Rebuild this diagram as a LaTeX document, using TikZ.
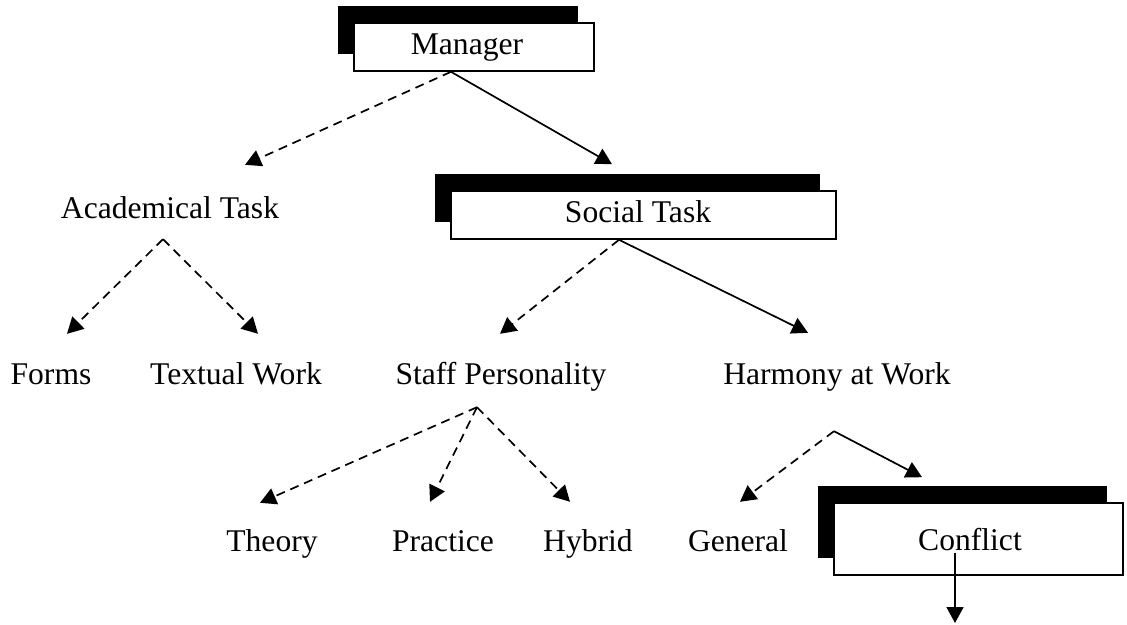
\documentclass[tikz,border=0pt]{standalone}
\usepackage{fontspec}
\setmainfont{Liberation Serif}
\usetikzlibrary{arrows.meta,shadows}

\begin{document}
\begin{tikzpicture}[x=1pt,y=-1pt,
  font=\fontsize{31.6pt}{38pt}\selectfont,
  box/.style={draw, fill=white, line width=1.6pt, inner sep=0pt,
    text height=21pt, text depth=7pt,
    drop shadow={shadow xshift=-16pt, shadow yshift=17pt, fill=black, opacity=1}},
  lbl/.style={inner sep=0pt, anchor=base, text height=21pt, text depth=7pt},
  solidarr/.style={line width=1.7pt, -{Triangle[length=16pt,width=17pt]}},
  dasharr/.style={solidarr, dash pattern=on 9pt off 6pt}]
\useasboundingbox (0,0) rectangle (1127,624);

% Kaesten
\node[box, minimum width=240pt, minimum height=48pt] (mgr) at (474,47) {Manager\hspace*{14pt}};
\node[box, minimum width=385pt, minimum height=48pt] (social) at (643.5,215) {Social Task\hspace*{11pt}};
\node[box, minimum width=289pt, minimum height=72pt, text height=29pt] (conflict) at (978.5,539) {Conflict\hspace*{17pt}};

% Beschriftungen
\node[lbl] (acad) at (170,218) {Academical Task};

\node[lbl] (forms)    at ( 51,384) {Forms};
\node[lbl] (textual)  at (236,384) {Textual Work};
\node[lbl] (staff)    at (501,384) {Staff Personality};
\node[lbl] (harmony)  at (837,384) {Harmony at Work};

\node[lbl] (theory)   at (272,551) {Theory};
\node[lbl] (practice) at (443,551) {Practice};
\node[lbl] (hybrid)   at (588,551) {Hybrid};
\node[lbl] (general)  at (738,551) {General};

\coordinate (out) at (955,623);

% Pfeile
\draw[dasharr]  ([xshift=-23pt]mgr.south) -- ([xshift=75pt,yshift=32pt]acad.north);
\draw[solidarr] ([xshift=-23pt]mgr.south) -- ([xshift=-31.5pt,yshift=26pt]social.north);

\draw[dasharr] ([xshift=-7pt,yshift=-14pt]acad.south) -- ([xshift=16pt,yshift=29pt]forms.north);
\draw[dasharr] ([xshift=-7pt,yshift=-14pt]acad.south) -- ([xshift=22pt,yshift=29pt]textual.north);

\draw[dasharr]  ([xshift=-24.5pt]social.south) -- ([xshift=-1pt,yshift=29pt]staff.north);
\draw[solidarr] ([xshift=-24.5pt]social.south) -- ([xshift=-29pt,yshift=30pt]harmony.north);

\draw[dasharr] ([xshift=-24pt,yshift=-16pt]staff.south) -- ([xshift=-12pt,yshift=27pt]theory.north);
\draw[dasharr] ([xshift=-24pt,yshift=-16pt]staff.south) -- ([xshift=-13pt,yshift=28pt]practice.north);
\draw[dasharr] ([xshift=-24pt,yshift=-16pt]staff.south) -- ([xshift=-18pt,yshift=28pt]hybrid.north);

\draw[dasharr]  ([xshift=-3pt,yshift=-40pt]harmony.south) -- ([xshift=2pt,yshift=28pt]general.north);
\draw[solidarr] ([xshift=-3pt,yshift=-40pt]harmony.south) -- ([xshift=-56.5pt,yshift=25pt]conflict.north);

\draw[solidarr] ([xshift=-23.5pt,yshift=-14pt]conflict.center) -- (out);

\end{tikzpicture}
\end{document}
